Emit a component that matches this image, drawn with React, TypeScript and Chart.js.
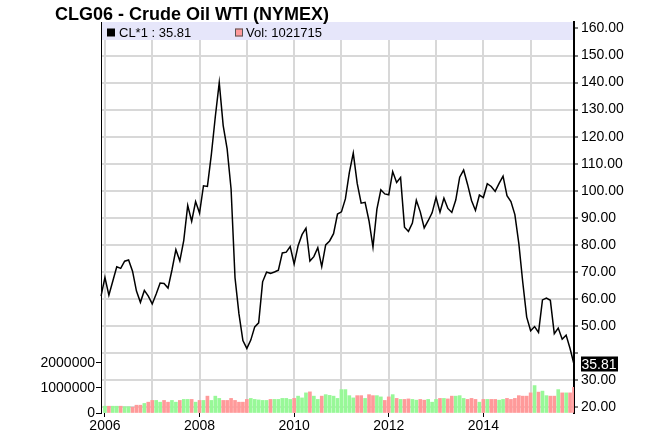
import React, { useEffect, useRef } from 'react';
import { Chart, registerables } from 'chart.js';

Chart.register(...registerables);

// Monthly closes, Dec 2005 .. Dec 2015
const priceClose: number[] = [
  61.04,
  67.92, 61.41, 66.63, 71.88, 71.29, 73.93, 74.4, 70.26, 62.91, 58.73, 63.13, 61.05,
  58.14, 61.79, 65.87, 65.71, 64.01, 70.68, 78.21, 74.04, 81.66, 94.53, 88.71, 95.98,
  91.75, 101.84, 101.58, 113.46, 127.35, 140.0, 124.08, 115.46, 100.64, 67.81, 54.43, 44.6,
  41.68, 44.76, 49.66, 51.12, 66.31, 69.89, 69.45, 69.96, 70.61, 77.0, 77.28, 79.36,
  72.89, 79.66, 83.76, 86.15, 73.97, 75.63, 78.95, 71.92, 79.97, 81.43, 84.11, 91.38,
  92.19, 96.97, 106.72, 113.93, 102.7, 95.42, 95.7, 88.81, 79.2, 93.19, 100.36, 98.83,
  98.48, 107.07, 103.02, 104.87, 86.53, 84.96, 88.06, 96.47, 92.19, 86.24, 88.91, 91.82,
  97.49, 92.05, 97.23, 93.46, 91.97, 96.56, 105.03, 107.65, 102.33, 96.38, 92.72, 98.42,
  97.49, 102.59, 101.58, 99.74, 102.71, 105.37, 98.17, 95.96, 91.16, 80.54, 66.15, 53.27,
  48.24, 49.76, 47.6, 59.63, 60.3, 59.47, 47.12, 49.2, 45.09, 46.59, 41.65, 35.81,
];

// Monthly volume, Dec 2005 (none) .. Dec 2015
const volume: (number | null)[] = [
  null,
  270000, 270000, 270000, 270000, 270000, 250000, 250000, 230000, 310000, 310000, 380000, 430000,
  500000, 500000, 430000, 500000, 430000, 500000, 430000, 500000, 540000, 540000, 540000, 430000,
  500000, 500000, 670000, 500000, 670000, 580000, 500000, 500000, 580000, 500000, 430000, 430000,
  540000, 580000, 540000, 520000, 500000, 500000, 540000, 540000, 540000, 580000, 580000, 540000,
  580000, 670000, 600000, 800000, 840000, 670000, 540000, 670000, 730000, 700000, 670000, 580000,
  930000, 930000, 690000, 600000, 690000, 690000, 580000, 730000, 690000, 690000, 640000, 500000,
  640000, 730000, 580000, 540000, 540000, 560000, 540000, 510000, 540000, 510000, 540000, 430000,
  540000, 580000, 580000, 560000, 670000, 670000, 690000, 580000, 540000, 580000, 540000, 430000,
  540000, 540000, 540000, 540000, 510000, 540000, 580000, 540000, 580000, 690000, 670000, 670000,
  800000, 1090000, 830000, 870000, 690000, 670000, 670000, 930000, 800000, 800000, 800000, 1021715,
];

const startYear = 2005;
const startMonth = 12;
const labeledYears: number[] = [2006, 2008, 2010, 2012, 2014];
const priceTicks: number[] = [20, 30, 40, 50, 60, 70, 80, 90, 100, 110, 120, 130, 140, 150, 160];
const hiddenPriceLabels: number[] = [40];
const volumeTicks: number[] = [0, 1000000, 2000000];
const titleText = 'CLG06 - Crude Oil WTI (NYMEX)';
const priceSymbol = 'CL*1';

const labels: string[] = priceClose.map((_, i) => {
  const t = startMonth - 1 + i;
  const y = startYear + Math.floor(t / 12);
  const m = (t % 12) + 1;
  return `${y}-${String(m).padStart(2, '0')}`;
});
const yearStartIdx: number[] = labels
  .map((l, i) => (l.endsWith('-01') ? i : -1))
  .filter((i) => i >= 0);

const UP = '#98f898';
const DOWN = '#ff9a9a';
const GRID = '#d8d8d8';
const FONT = "'Liberation Sans', Arial, sans-serif";

const volColors = volume.map((_, i) =>
  i > 0 && priceClose[i] >= priceClose[i - 1] ? UP : DOWN
);

const decor = {
  id: 'decor',
  beforeDatasetsDraw(chart: any) {
    const { ctx, chartArea: a } = chart;
    const xs = chart.scales.x;
    ctx.save();
    // vertical year grid lines
    ctx.strokeStyle = GRID;
    ctx.lineWidth = 2;
    yearStartIdx.forEach((idx) => {
      const x = Math.round(xs.getPixelForValue(idx));
      ctx.beginPath();
      ctx.moveTo(x, a.top);
      ctx.lineTo(x, a.bottom);
      ctx.stroke();
    });
    // legend band
    ctx.fillStyle = '#e6e6fa';
    ctx.fillRect(a.left + 1, a.top, a.right - a.left - 2, 18);
    ctx.restore();
  },
  afterDraw(chart: any) {
    const { ctx, chartArea: a } = chart;
    ctx.save();
    // title
    ctx.fillStyle = '#000';
    ctx.font = `bold 18px ${FONT}`;
    ctx.textBaseline = 'alphabetic';
    ctx.textAlign = 'left';
    ctx.fillText(titleText, 55, 20);
    // legend
    const last = priceClose[priceClose.length - 1];
    const lastVol = volume[volume.length - 1] as number;
    ctx.font = `13px ${FONT}`;
    ctx.fillStyle = '#000';
    ctx.fillRect(a.left + 6, a.top + 6.5, 8, 8);
    ctx.fillText(`${priceSymbol} : ${last.toFixed(2)}`, a.left + 18, a.top + 15);
    ctx.fillStyle = DOWN;
    ctx.fillRect(a.left + 134, a.top + 6.5, 8, 8);
    ctx.strokeStyle = '#555';
    ctx.lineWidth = 1;
    ctx.strokeRect(a.left + 134.5, a.top + 7, 7, 7);
    ctx.fillStyle = '#000';
    ctx.fillText(`Vol: ${lastVol}`, a.left + 145, a.top + 15);
    // last price marker
    const y = chart.scales.price.getPixelForValue(last);
    ctx.fillStyle = '#000';
    ctx.fillRect(a.right + 7, Math.round(y) - 7.5, 37, 15);
    ctx.fillStyle = '#fff';
    ctx.font = `14px ${FONT}`;
    ctx.textBaseline = 'middle';
    ctx.fillText(last.toFixed(2), a.right + 7.5, y + 0.5);
    ctx.restore();
  },
};

export default function App() {
  const ref = useRef<HTMLCanvasElement | null>(null);
  useEffect(() => {
    if (!ref.current) return;
    const chart = new Chart(ref.current, {
      type: 'bar',
      data: {
        labels,
        datasets: [
          {
            type: 'line',
            label: priceSymbol,
            data: priceClose,
            yAxisID: 'price',
            borderColor: '#000',
            borderWidth: 1.5,
            pointRadius: 0,
            tension: 0,
            order: 0,
          } as any,
          {
            type: 'bar',
            label: 'Vol',
            data: volume,
            yAxisID: 'vol',
            backgroundColor: volColors,
            barThickness: 3,
            order: 1,
          } as any,
        ],
      },
      options: {
        responsive: false,
        animation: false,
        devicePixelRatio: 1,
        layout: { padding: { top: 22, left: 0, right: 0, bottom: 0 } },
        plugins: { legend: { display: false }, tooltip: { enabled: false }, title: { display: false } },
        scales: {
          x: {
            type: 'category',
            offset: false,
            afterBuildTicks: (s: any) => {
              s.ticks = yearStartIdx.map((v) => ({ value: v }));
            },
            afterFit: (s: any) => {
              s.height = 20;
            },
            grid: {
              offset: false,
              drawOnChartArea: false,
              drawTicks: true,
              tickLength: 4,
              tickWidth: 1,
              tickColor: (c: any) => {
                const l = labels[c.tick?.value ?? 0];
                return labeledYears.includes(Number(l.slice(0, 4))) ? '#000' : 'rgba(0,0,0,0)';
              },
            },
            border: { display: false },
            ticks: {
              autoSkip: false,
              maxRotation: 0,
              padding: 1,
              color: '#000',
              font: { family: FONT, size: 14 },
              callback: (v: any) => {
                const y = Number(labels[v].slice(0, 4));
                return labeledYears.includes(y) ? String(y) : '';
              },
            },
          },
          price: {
            type: 'linear',
            position: 'right',
            min: 17.8,
            max: 162.4,
            afterBuildTicks: (s: any) => {
              s.ticks = priceTicks.map((v) => ({ value: v }));
            },
            afterFit: (s: any) => {
              s.width = 76;
            },
            grid: {
              color: GRID,
              lineWidth: 2,
              tickColor: '#000',
              tickLength: 4,
              tickWidth: 1,
            },
            border: { color: '#000', width: 2 },
            ticks: {
              autoSkip: false,
              padding: 3,
              color: '#000',
              font: { family: FONT, size: 14 },
              callback: (v: any) => (hiddenPriceLabels.includes(v) ? '' : Number(v).toFixed(2)),
            },
          },
          vol: {
            type: 'linear',
            position: 'left',
            min: 0,
            max: 15540000,
            afterBuildTicks: (s: any) => {
              s.ticks = volumeTicks.map((v) => ({ value: v }));
            },
            afterFit: (s: any) => {
              s.width = 101;
            },
            grid: {
              drawOnChartArea: false,
              tickColor: '#000',
              tickLength: 5,
            },
            border: { color: '#000', width: 1 },
            ticks: {
              autoSkip: false,
              padding: 1,
              color: '#000',
              font: { family: FONT, size: 14 },
              callback: (v: any) => String(v),
            },
          },
        },
      },
      plugins: [decor],
    });
    return () => chart.destroy();
  }, []);
  return (
    <div style={{ position: 'fixed', left: 0, top: 0, width: 650, height: 433, background: '#fff' }}>
      <canvas ref={ref} width={650} height={433} />
    </div>
  );
}
